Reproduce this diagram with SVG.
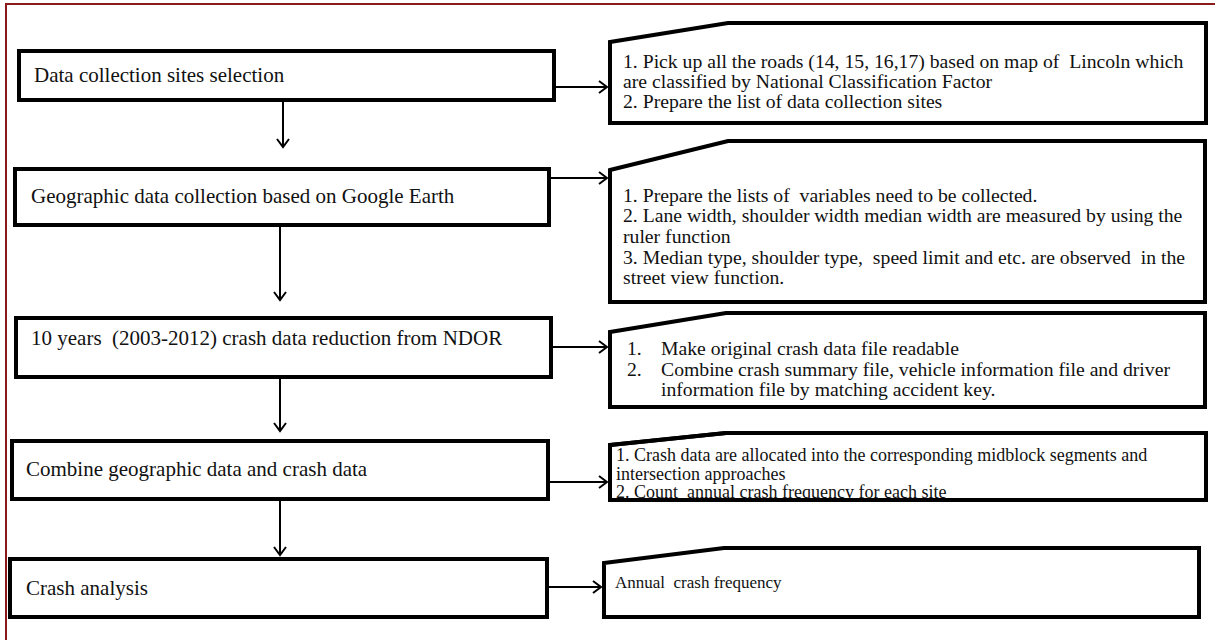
<svg xmlns="http://www.w3.org/2000/svg" width="1215" height="640" viewBox="0 0 1215 640">
<defs>
<marker id="ah" markerUnits="userSpaceOnUse" markerWidth="16" markerHeight="16" refX="9" refY="7" orient="auto">
<path d="M1,1 L9,7 L1,13" fill="none" stroke="#000" stroke-width="2"/>
</marker>
<style>
.box{fill:#fff;stroke:#000;stroke-width:4}
.edge{fill:none;stroke:#000;stroke-width:4}
.t{font-family:"Liberation Serif","Times New Roman",serif;font-size:21px;fill:#111;white-space:pre}
.s{font-family:"Liberation Serif","Times New Roman",serif;font-size:19.7px;fill:#111;white-space:pre}
.x{font-family:"Liberation Serif","Times New Roman",serif;font-size:18px;fill:#111;white-space:pre}
.y{font-family:"Liberation Serif","Times New Roman",serif;font-size:17px;fill:#111;white-space:pre}
.c{fill:none;stroke:#000;stroke-width:2;marker-end:url(#ah)}
</style>
</defs>
<rect x="0" y="0" width="1215" height="640" fill="#fff"/>
<rect x="6" y="4" width="1220" height="650" fill="none" stroke="#8b1a1a" stroke-width="2"/>
<g id="n1"><rect class="box" x="19" y="51" width="535" height="49"/><text class="t" x="34" y="82">Data collection sites selection</text></g>
<g id="n2"><rect class="box" x="15" y="169" width="534" height="56"/><text class="t" x="31" y="203">Geographic data collection based on Google Earth</text></g>
<g id="n3"><rect class="box" x="16" y="318" width="535" height="59"/><text class="t" x="31" y="345">10 years  (2003-2012) crash data reduction from NDOR</text></g>
<g id="n4"><rect class="box" x="12" y="441" width="536" height="58"/><text class="t" x="26" y="476">Combine geographic data and crash data</text></g>
<g id="n5"><rect class="box" x="10" y="559" width="537" height="58"/><text class="t" x="26" y="595">Crash analysis</text></g>
<g id="r1"><path class="box" d="M610,42 L728,23 L1206,23 L1206,123 L610,123 Z"/>
<text class="s"><tspan x="623" y="68">1. Pick up all the roads (14, 15, 16,17) based on map of  Lincoln which</tspan><tspan x="623" y="88">are classified by National Classification Factor</tspan><tspan x="623" y="108">2. Prepare the list of data collection sites</tspan></text></g>
<g id="r2"><path class="box" d="M610,170 L728,141 L1205,141 L1205,302 L610,302 Z"/>
<text class="s"><tspan x="623" y="202">1. Prepare the lists of  variables need to be collected.</tspan><tspan x="623" y="222">2. Lane width, shoulder width median width are measured by using the</tspan><tspan x="623" y="243">ruler function</tspan><tspan x="623" y="264">3. Median type, shoulder type,  speed limit and etc. are observed  in the</tspan><tspan x="623" y="284">street view function.</tspan></text></g>
<g id="r3"><path class="box" d="M610,332 L726,313 L1205,313 L1205,407 L610,407 Z"/>
<text class="s"><tspan x="627" y="355">1.</tspan><tspan x="661" y="355">Make original crash data file readable</tspan><tspan x="627" y="376">2.</tspan><tspan x="661" y="376">Combine crash summary file, vehicle information file and driver</tspan><tspan x="661" y="396">information file by matching accident key.</tspan></text></g>
<g id="r4"><path class="box" d="M610,445 L726,433 L1206,433 L1206,500 L610,500 Z"/>
<text class="x"><tspan x="616" y="461">1. Crash data are allocated into the corresponding midblock segments and</tspan><tspan x="616" y="480">intersection approaches</tspan><tspan x="616" y="498">2. Count  annual crash frequency for each site</tspan></text>
<path class="edge" d="M610,445 L726,433 L1206,433 L1206,500 L610,500 Z"/></g>
<g id="r5"><path class="box" d="M604,563 L724,548 L1199,548 L1199,617 L604,617 Z"/>
<text class="y" x="615" y="588">Annual  crash frequency</text></g>
<g id="connectors">
<path class="c" d="M283,100 V147"/>
<path class="c" d="M280,225 V300"/>
<path class="c" d="M280,377 V431"/>
<path class="c" d="M280,499 V555"/>
<path class="c" d="M554,87 H607"/>
<path class="c" d="M549,178 H607"/>
<path class="c" d="M551,347 H607"/>
<path class="c" d="M548,482 H607"/>
<path class="c" d="M547,587 H601"/>
</g>
</svg>
